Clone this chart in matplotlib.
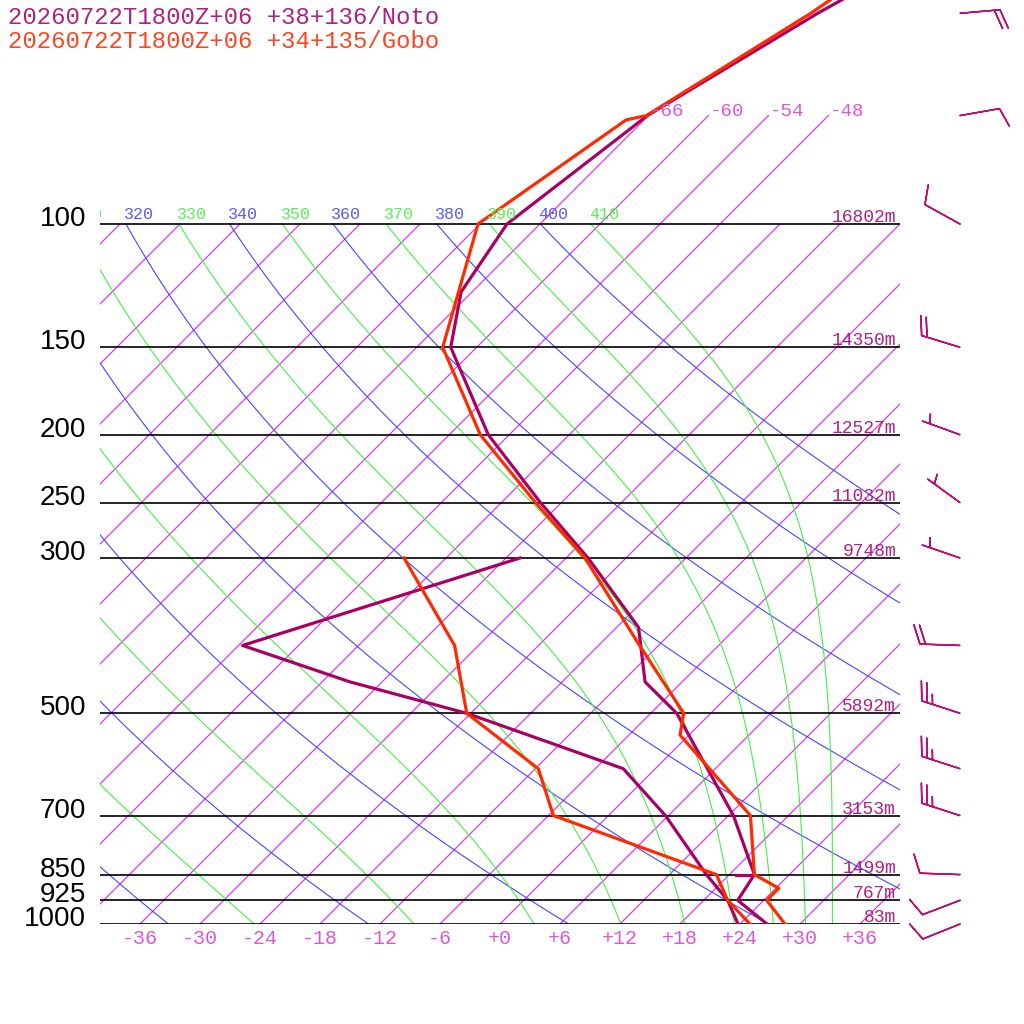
import numpy as np
import matplotlib
matplotlib.use('Agg')
import matplotlib.pyplot as plt
from matplotlib.transforms import Affine2D

# ---- data ----
titles = ['20260722T1800Z+06 +38+136/Noto', '20260722T1800Z+06 +34+135/Gobo']

levels = [100, 150, 200, 250, 300, 500, 700, 850, 925, 1000]
heights = [16802, 14350, 12527, 11032, 9748, 5892, 3153, 1499, 767, 83]

# Noto (temperature / dew point)
noto_t_p = [1000, 925, 850, 700, 500, 451, 377, 300, 250, 200, 150, 125, 100, 70, 50, 30]
noto_t = [26.7, 21.4, 20.5, 12.5, -3.4, -9.7, -15.8, -27.8, -38.1, -50.1, -62.6, -67.1, -69.3, -66.1, -59.3, -47.1]
noto_d_p = [1000, 925, 850, 700, 600, 500, 451, 400, 300]
noto_d = [23.8, 20.4, 15.7, 5.7, -3.2, -24.4, -39.2, -53.6, -34.6]
noto_stub_t = [18.7, 20.5]  # short mark at 850 hPa

# Gobo (temperature / dew point)
gobo_t_p = [1000, 925, 889, 850, 700, 537, 500, 400, 300, 250, 200, 150, 100, 71, 70, 50, 30]
gobo_t = [28.5, 24.3, 24.3, 20.5, 14.2, -0.9, -2.7, -13.9, -28.1, -38.6, -50.9, -63.4, -72.2, -67.8, -66.2, -60.0, -52.8]
gobo_d_p = [1000, 925, 850, 700, 600, 500, 400, 300]
gobo_d = [25.0, 20.4, 16.7, -5.5, -11.7, -24.4, -32.4, -46.2]

# Noto winds
wind_p = [1000, 925, 850, 700, 600, 500, 400, 300, 250, 200, 150, 100, 70, 50]
wind_dir = [248, 249, 272, 288, 288, 288, 272, 289, 306, 290, 287, 299, 80, 85]
wind_spd = [10, 10, 10, 25, 25, 25, 20, 5, 5, 5, 20, 10, 10, 20]

t_ticks = list(range(-36, 37, 6))
dry_thetas = list(range(240, 401, 20))
moist_thetas = list(range(250, 411, 20))

noto_c = '#aa0066'
gobo_c = '#ff2a00'
iso_c = '#d23ee0'
blue_c = '#4646ff'
green_c = '#46f046'
mono = 'Liberation Mono'


def sat_theta_e(tk, p):
    e = 6.112 * np.exp(17.67 * (tk - 273.15) / (tk - 29.65))
    r = 622.0 * e / (p - e)
    return (tk * (1000.0 / p) ** (0.2854 * (1 - 0.00028 * r))
            * np.exp((3.376 / tk - 0.00254) * r * (1 + 0.00081 * r)))


def moist_line(the, p):
    hi_c = 243.5 * np.log(0.2 * p / 6.112) / (17.67 - np.log(0.2 * p / 6.112))
    lo = np.full_like(p, 150.0)
    hi = hi_c + 273.15
    for _ in range(60):
        mid = 0.5 * (lo + hi)
        big = sat_theta_e(mid, p) > the
        hi = np.where(big, mid, hi)
        lo = np.where(big, lo, mid)
    return 0.5 * (lo + hi) - 273.15


fig = plt.figure(figsize=(10.24, 10.24), dpi=100)
ax = fig.add_axes([100 / 1024, 100 / 1024, 800 / 1024, 924 / 1024])
ax.set_yscale('log')
ptop = 1000 * np.exp(-924 / 304)
ax.set_ylim(1000, ptop)
ax.set_xlim(-40, 40)
ax.set_axis_off()

skew = ax.transData + Affine2D().translate(0, -100).skew_deg(45, 0).translate(0, 100)

# isotherms
for t in range(-108, 37, 6):
    ax.plot([t, t], [1000, 100], color=iso_c, lw=0.9, transform=skew)
for t in range(-66, -47, 6):
    ax.plot([t, t], [100, 70], color=iso_c, lw=0.9, transform=skew)
    ax.annotate(str(t), xy=(t, 70), xycoords=skew, xytext=(1, 0),
                textcoords='offset pixels', ha='left', va='baseline',
                color='#dd55dd', fontsize=13.8, family=mono)


def theta_label(th, t100, col):
    # only labels that reach into the plotting box
    if 500 + 10 * t100 + 700 < 60:
        return
    txt = ax.annotate(str(th), xy=(t100, 100), xycoords=skew, xytext=(-2, 5),
                      textcoords='offset pixels', ha='left', va='baseline',
                      color=col, fontsize=12, family=mono)
    txt.set_clip_path(ax.patch)


# dry and moist adiabats
pp = np.geomspace(1000, 100, 150)
for th in dry_thetas:
    tt = th * (pp / 1000.0) ** 0.2857 - 273.15
    ax.plot(tt, pp, color=blue_c, lw=0.8, transform=skew)
    theta_label(th, tt[-1], '#5858ff')
for th in moist_thetas:
    with np.errstate(all='ignore'):
        tt = moist_line(th, pp)
    ax.plot(tt, pp, color=green_c, lw=0.8, transform=skew)
    theta_label(th, tt[-1], '#58f058')

# isobars with labels
for p, h in zip(levels, heights):
    ax.axhline(p, color='black', lw=1.2)
    ax.annotate(str(p), xy=(86, p), xycoords=('figure pixels', 'data'),
                xytext=(0, -2), textcoords='offset pixels', ha='right',
                va='baseline', fontsize=20, family='Liberation Sans', color='black')
    ax.annotate(f'{h}m', xy=(896, p), xycoords=('figure pixels', 'data'),
                xytext=(0, 2), textcoords='offset pixels', ha='right',
                va='baseline', fontsize=13, family=mono, color='#b02080')

# temperature axis labels
for t in t_ticks:
    lab = f'{t:+d}' if t >= 0 else str(t)
    ax.annotate(lab, xy=(t, 1000), xycoords='data', xytext=(0, -20),
                textcoords='offset pixels', ha='center', va='baseline',
                fontsize=14.4, family=mono, color='#dd55dd', annotation_clip=False)

# profiles
ax.plot(noto_d, noto_d_p, color=noto_c, lw=2.3, transform=skew)
ax.plot(noto_t, noto_t_p, color=noto_c, lw=2.3, transform=skew)
ax.plot(noto_stub_t, [850, 850], color=noto_c, lw=2.3, transform=skew)
ax.plot(gobo_d, gobo_d_p, color=gobo_c, lw=2.3, transform=skew)
ax.plot(gobo_t, gobo_t_p, color=gobo_c, lw=2.3, transform=skew)

# wind barbs
ax2 = fig.add_axes([0, 100 / 1024, 1, 924 / 1024])
ax2.set_yscale('log')
ax2.set_ylim(1000, ptop)
ax2.set_xlim(0, 1024)
ax2.set_axis_off()
wd = np.radians(wind_dir)
ws = np.array(wind_spd, dtype=float)
u = -ws * np.sin(wd)
v = -ws * np.cos(wd)
ax2.barbs(np.full(len(wind_p), 960.0), wind_p, u, v, length=7.6, pivot='tip',
          sizes=dict(spacing=0.14, height=0.47, width=0.33, emptybarb=0.0),
          barb_increments=dict(half=5, full=10, flag=50),
          color='#bb1177', linewidth=1.1, clip_on=False)

# titles
fig.text(8 / 1024, 1 - 24 / 1024, titles[0], color='#aa2288', fontsize=17.2,
         family=mono, va='baseline', ha='left')
fig.text(8 / 1024, 1 - 48 / 1024, titles[1], color='#ff4422', fontsize=17.2,
         family=mono, va='baseline', ha='left')

fig.savefig('out.png', dpi=100, facecolor='white')
